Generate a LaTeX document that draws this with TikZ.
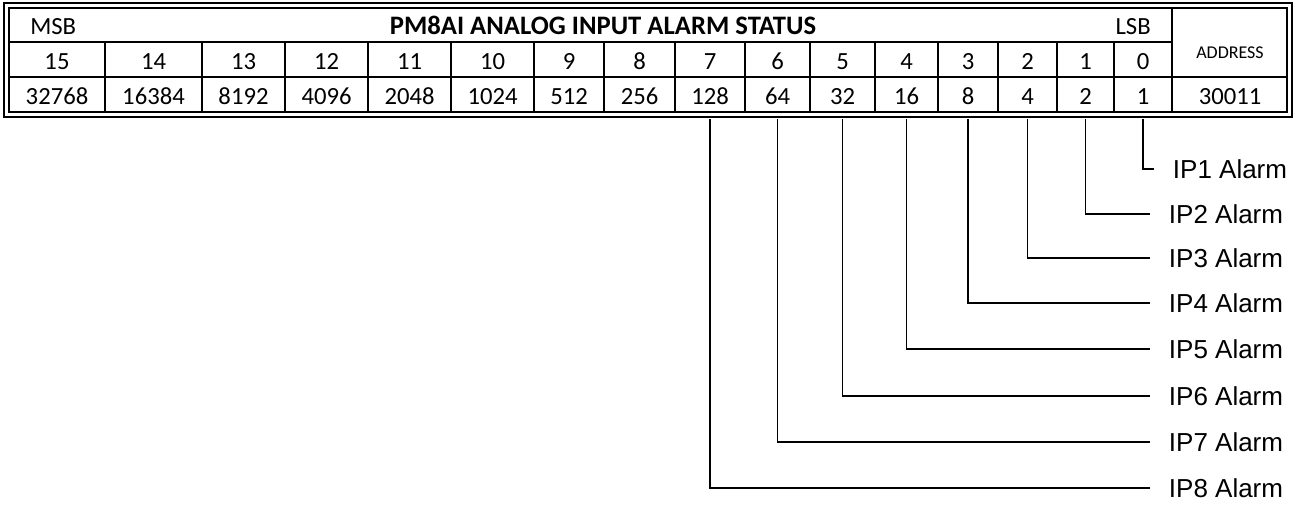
\documentclass[tikz,border=0pt]{standalone}
\usepackage{fontspec}
\setmainfont{Carlito}
\newfontfamily\arialfont{Liberation Sans}

\tikzset{
  cell/.style={anchor=base, inner sep=0pt, font=\fontsize{18.5}{21}\selectfont},
  alarm/.style={anchor=west, inner sep=0pt, inner xsep=14pt, font=\arialfont\fontsize{19.5}{23}\selectfont},
  gridline/.style={line width=1.5pt},
  tap/.style={line width=1.4pt},
}

\begin{document}
\begin{tikzpicture}[x=0.75pt,y=-0.75pt]
      \useasboundingbox (0,0) rectangle (1295,506);

      % TABLE
      \draw[gridline] (4,3) rectangle (1292,117);
      \draw[gridline] (9,8) rectangle (1287,112);
      \draw[gridline] (9,42) -- (1172,42);
      \draw[gridline] (9,77) -- (1287,77);
      \draw[gridline] (1172,8) -- (1172,112);
      \draw[gridline] (105,42) -- (105,112)  (202,42) -- (202,112)
      (285,42) -- (285,112)  (368,42) -- (368,112)
      (451,42) -- (451,112)  (534,42) -- (534,112)
      (604,42) -- (604,112)  (675,42) -- (675,112)
      (745,42) -- (745,112)  (810,42) -- (810,112)
      (875,42) -- (875,112)  (938,42) -- (938,112)
      (998,42) -- (998,112)  (1057,42) -- (1057,112)
      (1114,42) -- (1114,112);

      % HEADINGS
      \draw (30,35) node[cell, anchor=base west] (msb) {MSB};
      \draw (603,35) node[cell, font=\fontsize{20}{22}\selectfont] (title) {\bfseries PM8AI ANALOG INPUT ALARM STATUS};
      \draw (1151,35) node[cell, anchor=base east] (lsb) {LSB};
      \draw (1230,59) node[cell, font=\fontsize{13.5}{15}\selectfont] (addr) {ADDRESS};

      % BIT NUMBERS
      \draw (57,70) node[cell] (b15) {15};
      \draw (153.5,70) node[cell] (b14) {14};
      \draw (243.5,70) node[cell] (b13) {13};
      \draw (326.5,70) node[cell] (b12) {12};
      \draw (409.5,70) node[cell] (b11) {11};
      \draw (492.5,70) node[cell] (b10) {10};
      \draw (569,70) node[cell] (b9) {9};
      \draw (639.5,70) node[cell] (b8) {8};
      \draw (710,70) node[cell] (b7) {7};
      \draw (777.5,70) node[cell] (b6) {6};
      \draw (842.5,70) node[cell] (b5) {5};
      \draw (906.5,70) node[cell] (b4) {4};
      \draw (968,70) node[cell] (b3) {3};
      \draw (1027.5,70) node[cell] (b2) {2};
      \draw (1085.5,70) node[cell] (b1) {1};
      \draw (1143,70) node[cell] (b0) {0};

      % WEIGHTS
      \draw (57,105) node[cell] (w15) {32768};
      \draw (153.5,105) node[cell] (w14) {16384};
      \draw (243.5,105) node[cell] (w13) {8192};
      \draw (326.5,105) node[cell] (w12) {4096};
      \draw (409.5,105) node[cell] (w11) {2048};
      \draw (492.5,105) node[cell] (w10) {1024};
      \draw (569,105) node[cell] (w9) {512};
      \draw (639.5,105) node[cell] (w8) {256};
      \draw (710,105) node[cell] (w7) {128};
      \draw (777.5,105) node[cell] (w6) {64};
      \draw (842.5,105) node[cell] (w5) {32};
      \draw (906.5,105) node[cell] (w4) {16};
      \draw (968,105) node[cell] (w3) {8};
      \draw (1027.5,105) node[cell] (w2) {4};
      \draw (1085.5,105) node[cell] (w1) {2};
      \draw (1143,105) node[cell] (w0) {1};
      \draw (1230,105) node[cell] (reg) {30011};

      % ALARMS
      \draw (1154,169) node[alarm] (ip1) {IP1 Alarm};
      \draw (1150,214) node[alarm] (ip2) {IP2 Alarm};
      \draw (1150,258) node[alarm] (ip3) {IP3 Alarm};
      \draw (1150,303) node[alarm] (ip4) {IP4 Alarm};
      \draw (1150,349) node[alarm] (ip5) {IP5 Alarm};
      \draw (1150,396) node[alarm] (ip6) {IP6 Alarm};
      \draw (1150,442) node[alarm] (ip7) {IP7 Alarm};
      \draw (1150,488) node[alarm] (ip8) {IP8 Alarm};

      % TAPS
      \draw[tap] (w0 |- 0,119) |- (ip1.west);
      \draw[tap] (w1 |- 0,119) |- (ip2.west);
      \draw[tap] (w2 |- 0,119) |- (ip3.west);
      \draw[tap] (w3 |- 0,119) |- (ip4.west);
      \draw[tap] (w4 |- 0,119) |- (ip5.west);
      \draw[tap] (w5 |- 0,119) |- (ip6.west);
      \draw[tap] (w6 |- 0,119) |- (ip7.west);
      \draw[tap] (w7 |- 0,119) |- (ip8.west);

\end{tikzpicture}
\end{document}
